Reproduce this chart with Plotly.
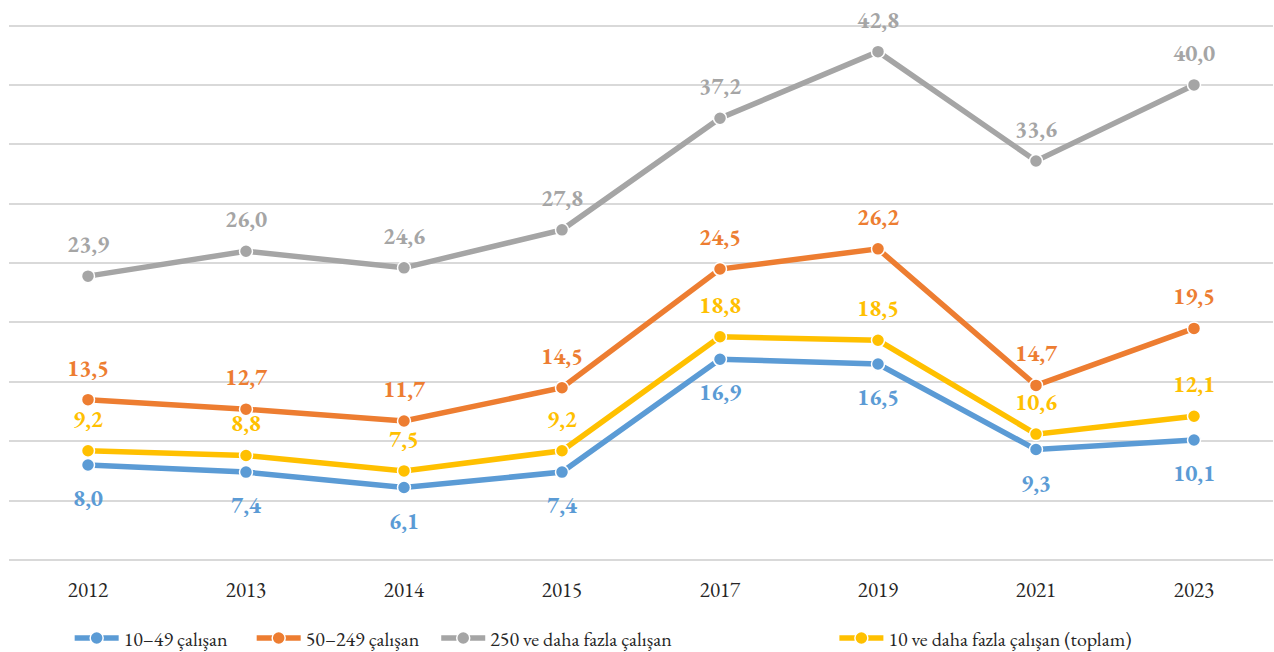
import plotly.graph_objects as go

years = ["2012", "2013", "2014", "2015", "2017", "2019", "2021", "2023"]
small = [8.0, 7.4, 6.1, 7.4, 16.9, 16.5, 9.3, 10.1]
medium = [13.5, 12.7, 11.7, 14.5, 24.5, 26.2, 14.7, 19.5]
large = [23.9, 26.0, 24.6, 27.8, 37.2, 42.8, 33.6, 40.0]
total = [9.2, 8.8, 7.5, 9.2, 18.8, 18.5, 10.6, 12.1]

# name, values, colour, label offset (px), legend id, legend x (paper)
series = [
    ("10–49 çalışan", small, "#5B9BD5", -33, "legend", 0.048),
    ("50–249 çalışan", medium, "#ED7D31", 32, "legend2", 0.192),
    ("250 ve daha fazla çalışan", large, "#A5A5A5", 32, "legend3", 0.338),
    ("10 ve daha fazla çalışan (toplam)", total, "#FFC000", 32, "legend4", 0.653),
]

FONT = "EB Garamond, Garamond, Liberation Serif, serif"
TEXT = "#262626"

fig = go.Figure()
annotations = []
legends = {}
for name, vals, color, shift, leg, lx in series:
    fig.add_trace(go.Scatter(
        x=years, y=vals, name=name, mode="lines+markers",
        line=dict(color=color, width=5.5),
        marker=dict(size=13, color=color, line=dict(color="white", width=1.5)),
        hoverinfo="skip", legend=leg,
    ))
    # category index keeps numeric-looking year names from being read as positions
    for i, v in enumerate(vals):
        annotations.append(dict(
            x=i, y=v, xref="x", yref="y", yshift=shift,
            text="<b>" + f"{v:.1f}".replace(".", ",") + "</b>", showarrow=False,
            font=dict(family=FONT, size=23, color=color),
        ))
    legends[leg] = dict(orientation="h", x=lx, xanchor="left", y=-0.145, yanchor="middle",
                        itemwidth=44,
                        font=dict(family=FONT, size=20, color=TEXT),
                        bgcolor="rgba(0,0,0,0)")

fig.update_layout(
    width=1274, height=652,
    margin=dict(l=9, r=1, t=22, b=92, autoexpand=False),
    paper_bgcolor="white", plot_bgcolor="white",
    annotations=annotations,
    showlegend=True,
    **legends,
)
fig.update_xaxes(type="category", range=[-0.5, 7.5], showgrid=False, zeroline=False,
                 showline=False, ticks="", ticklabelstandoff=15,
                 tickfont=dict(family=FONT, size=21, color=TEXT))
fig.update_yaxes(range=[0, 45.3], tickvals=[0, 5, 10, 15, 20, 25, 30, 35, 40, 45],
                 showticklabels=False, showgrid=True,
                 gridcolor="#D9D9D9", gridwidth=1.5, zeroline=True, zerolinecolor="#D9D9D9",
                 zerolinewidth=1.5, showline=False)

fig.write_html("out.html")
